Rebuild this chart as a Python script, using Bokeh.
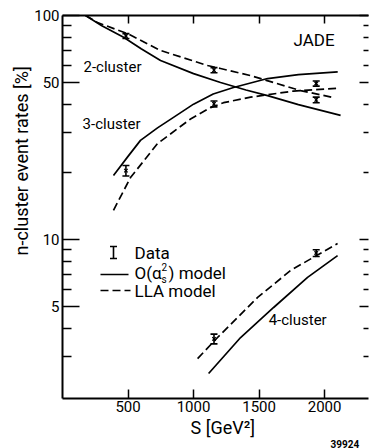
from bokeh.plotting import figure
from bokeh.models import (ColumnDataSource, Whisker, TeeHead, Label, Arrow, FixedTicker, Title,
                          LinearAxis, LogAxis, NumeralTickFormatter, Range1d, CustomJSTickFormatter)
from bokeh.embed import file_html
from bokeh.resources import INLINE

# ---- data ----
# 2-cluster rates [%]
x2_solid = [176, 300, 466, 600, 748, 1000, 1206, 1400, 1565, 1800, 2122]
y2_solid = [100, 90, 80, 71, 63, 55, 50.2, 46.5, 43.9, 40, 35.8]
x2_dash = [176, 267, 496, 748, 1107, 1206, 1435, 1817, 2069]
y2_dash = [100, 93, 83, 69.8, 59.8, 58, 53.9, 46.2, 43]
# 3-cluster rates [%]
x3_solid = [389, 500, 595, 725, 847, 1000, 1150, 1305, 1565, 1800, 2100]
y3_solid = [19.3, 23.5, 27.7, 31.5, 35.1, 40.2, 44.6, 47.7, 52.3, 54.5, 56.0]
x3_dash = [389, 519, 725, 977, 1130, 1229, 1435, 1763, 2100]
y3_dash = [13.5, 18.9, 26.8, 34.5, 38.8, 40.8, 43.2, 46.0, 47.3]
# 4-cluster rates [%]
x4_solid = [1115, 1359, 1611, 1870, 2099]
y4_solid = [2.52, 3.65, 4.97, 6.77, 8.47]
x4_dash = [1031, 1183, 1489, 1740, 2099]
y4_dash = [2.94, 3.65, 5.51, 7.27, 9.6]
# JADE data
data_x2 = [484, 1156, 1936]
data_y2 = [81, 57, 42]
err_2 = [2.0, 1.5, 1.2]
data_x3 = [484, 1156, 1936]
data_y3 = [20.3, 40.3, 49.7]
err_3 = [1.1, 1.2, 1.3]
data_x4 = [1156, 1936]
data_y4 = [3.6, 8.7]
err_4 = [0.18, 0.3]

x_ticks = [500, 1000, 1500, 2000]
y_ticks = [5, 10, 50, 100]
y_minor = [3, 4, 6, 7, 8, 9, 20, 30, 40, 60, 70, 80, 90]

FONT = "Roboto"
BLACK = "black"

p = figure(width=369, height=448, x_range=Range1d(0, 2335), y_range=Range1d(1.95, 100),
           y_axis_type="log", output_backend="svg", toolbar_location=None,
           min_border_left=62, min_border_right=1, min_border_top=15, min_border_bottom=50)
p.outline_line_color = None
p.grid.visible = False
p.background_fill_color = "white"
p.border_fill_color = "white"

# bottom axis
xa = p.xaxis[0]
xa.ticker = FixedTicker(ticks=x_ticks)
xa.major_tick_in = 9
xa.major_tick_out = 0
xa.minor_tick_in = 0
xa.minor_tick_out = 0
xa.axis_line_width = 2
xa.major_tick_line_width = 1.5
xa.major_label_text_font = FONT
xa.major_label_text_font_size = "15px"
xa.major_label_text_color = BLACK
xa.major_label_standoff = 2

# left axis
ya = p.yaxis[0]
ya.ticker = FixedTicker(ticks=y_ticks, minor_ticks=y_minor)
ya.formatter = NumeralTickFormatter(format="0")
ya.major_tick_in = 17
ya.major_tick_out = 0
ya.minor_tick_in = 9
ya.minor_tick_out = 0
ya.axis_line_width = 2
ya.major_tick_line_width = 1.5
ya.minor_tick_line_width = 1.5
ya.major_label_text_font = FONT
ya.major_label_text_font_size = "15px"
ya.major_label_text_color = BLACK
ya.major_label_standoff = 3

# top axis (ticks only)
top = LinearAxis(ticker=FixedTicker(ticks=x_ticks),
                 formatter=CustomJSTickFormatter(code="return ''"),
                 major_label_text_font_size="0px", major_label_standoff=0,
                 major_tick_in=8, major_tick_out=0, minor_tick_in=0, minor_tick_out=0,
                 axis_line_width=2, major_tick_line_width=1.5)
p.add_layout(top, "above")

# right axis (ticks only, frame line cut off in the scan)
right = LogAxis(ticker=FixedTicker(ticks=y_ticks, minor_ticks=y_minor),
                formatter=CustomJSTickFormatter(code="return ''"),
                major_label_text_font_size="0px", major_label_standoff=0,
                major_tick_in=9, major_tick_out=0, minor_tick_in=5, minor_tick_out=0,
                axis_line_color=None, major_tick_line_width=1.5, minor_tick_line_width=1.5)
p.add_layout(right, "right")

# axis titles
p.add_layout(Title(text="n-cluster event rates [%]", align="left", offset=143, standoff=0,
                   text_font=FONT, text_font_size="18px", text_font_style="normal",
                   text_color=BLACK), "left")
p.add_layout(Title(text="S [GeV²]", align="left", offset=128, standoff=0,
                   text_font=FONT, text_font_size="18px", text_font_style="normal",
                   text_color=BLACK), "below")
p.add_layout(Title(text="39924", align="left", offset=268, standoff=0,
                   text_font=FONT, text_font_size="10px", text_font_style="bold",
                   text_color=BLACK), "below")

LW = 1.7
DASH = "8 4"
p.line(x2_solid, y2_solid, line_color=BLACK, line_width=LW)
p.line(x2_dash, y2_dash, line_color=BLACK, line_width=LW, line_dash=DASH)
p.line(x3_solid, y3_solid, line_color=BLACK, line_width=LW)
p.line(x3_dash, y3_dash, line_color=BLACK, line_width=LW, line_dash=DASH)
p.line(x4_solid, y4_solid, line_color=BLACK, line_width=LW)
p.line(x4_dash, y4_dash, line_color=BLACK, line_width=LW, line_dash=DASH)

dx = data_x2 + data_x3 + data_x4
dy = data_y2 + data_y3 + data_y4
de = err_2 + err_3 + err_4
src = ColumnDataSource(data=dict(x=dx, y=dy,
                                 upper=[v + e for v, e in zip(dy, de)],
                                 lower=[v - e for v, e in zip(dy, de)]))
p.add_layout(Whisker(source=src, base="x", upper="upper", lower="lower", dimension="height",
                     line_color=BLACK, line_width=1.6,
                     upper_head=TeeHead(size=7, line_width=1.6, line_color=BLACK),
                     lower_head=TeeHead(size=7, line_width=1.6, line_color=BLACK)))
p.scatter(dx, dy, marker="x", size=5, line_color=BLACK, line_width=1.2)

def lab(text, x, y, size="15px", units="data", align="left", style="normal", baseline="middle"):
    p.add_layout(Label(x=x, y=y, x_units=units, y_units=units, text=text,
                       text_font=FONT, text_font_size=size, text_color=BLACK,
                       text_align=align, text_baseline=baseline, text_font_style=style))

# curve labels (data units)
lab("2-cluster", 160, 58.6)
lab("3-cluster", 153, 32.9)
lab("4-cluster", 1573, 4.36)
lab("JADE", 1763, 78.1, size="17px")

# legend (screen units, relative to the frame's bottom-left corner)
p.add_layout(Arrow(x_start=51, y_start=140, x_end=51, y_end=152, start_units="screen", end_units="screen",
                   line_color=BLACK, line_width=1.6,
                   start=TeeHead(size=7, line_width=1.6, line_color=BLACK),
                   end=TeeHead(size=7, line_width=1.6, line_color=BLACK)))
p.add_layout(Arrow(x_start=38, y_start=124, x_end=66, y_end=124, start_units="screen", end_units="screen",
                   line_color=BLACK, line_width=LW, end=None))
p.add_layout(Arrow(x_start=38, y_start=108, x_end=68, y_end=108, start_units="screen", end_units="screen",
                   line_color=BLACK, line_width=LW, line_dash=DASH, end=None))
lab("Data", 72, 146, size="17px", units="screen")
lab("O(α", 72, 126, size="17px", units="screen")
lab("2", 99, 132, size="10px", units="screen")
lab("s", 99, 119, size="10px", units="screen")
lab(") model", 106, 126, size="17px", units="screen")
lab("LLA model", 72, 108, size="17px", units="screen")

open("out.html", "w").write(file_html(p, INLINE))
